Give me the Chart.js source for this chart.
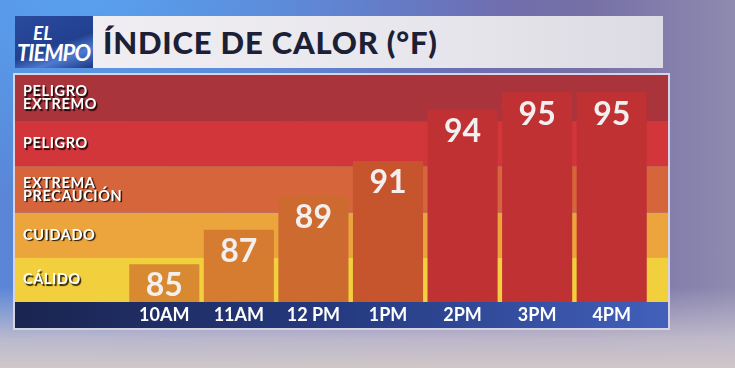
<!DOCTYPE html>
<html>
<head>
<meta charset="utf-8">
<script src="https://cdn.jsdelivr.net/npm/chart.js@4"></script>
<style>
  html, body { margin: 0; padding: 0; }
  body {
    width: 735px; height: 368px; overflow: hidden; position: relative;
    font-family: Lato, sans-serif;
    background:
      radial-gradient(ellipse 420px 200px at 90px 0px, #58a0ee 0%, rgba(88,160,238,0) 100%),
      linear-gradient(180deg, rgba(0,0,0,0) 0%, rgba(0,0,0,0) 78%, rgba(196,190,205,0.9) 92%, #cfc7c8 100%),
      linear-gradient(90deg, #5a86d8 0%, #5f78c8 25%, #6a6cb6 55%, #7670a6 80%, #8e8ab0 100%);
  }
  #logo {
    position: absolute; left: 15px; top: 16px; width: 78px; height: 52px;
    background: linear-gradient(160deg, #2a4a9e 0%, #22408f 55%, #4d7ad0 75%, #1d3680 100%);
    color: #fff; font-style: italic; font-weight: 700;
  }
  #logo .el { position: absolute; left: 18px; top: 7px; font-size: 19px; line-height: 19px; }
  #logo .ti { position: absolute; left: 2px; top: 26px; font-size: 22px; line-height: 22px; letter-spacing: -1px; }
  #titlebox {
    position: absolute; left: 93px; top: 16px; width: 570px; height: 52px;
    background: linear-gradient(90deg, #f0eef2 0%, #e7e6ec 60%, #dcdbe3 100%);
  }
  #titlebox span {
    position: absolute; left: 10px; top: 8px; font-size: 31px; line-height: 36px;
    font-weight: 900; color: #1c2036; letter-spacing: 0.8px;
  }
  #panel {
    position: absolute; left: 13px; top: 73px; width: 653px; height: 253px;
    border: 2px solid #d6d4e2;
  }
</style>
</head>
<body>
<div id="logo"><span class="el">EL</span><span class="ti">TIEMPO</span></div>
<div id="titlebox"><span>ÍNDICE DE CALOR (°F)</span></div>
<div id="panel"><canvas id="heatChart" width="653" height="253"></canvas></div>
<script>
const hours = ['10AM', '11AM', '12 PM', '1PM', '2PM', '3PM', '4PM'];
const heatIndex = [85, 87, 89, 91, 94, 95, 95];
const barColors = ['#d98a31', '#d57c30', '#cd6a30', '#c6552e', '#c03134', '#c03134', '#c03134'];

const bandEdges = [82.8, 85.4, 88.0, 90.7, 93.3, 96];
const bandNames = [['CÁLIDO'], ['CUIDADO'], ['EXTREMA', 'PRECAUCIÓN'], ['PELIGRO'], ['PELIGRO', 'EXTREMO']];
const bandColors = ['#f2cf3c', '#eca53d', '#d6653b', '#d2363b', '#a9343c'];

const fontFam = 'Lato, sans-serif';

const bandsPlugin = {
  id: 'bands',
  beforeDraw(chart) {
    const ctx = chart.ctx;
    const y = chart.scales.y;
    const x = chart.scales.x;
    ctx.save();
    for (let i = 0; i < bandColors.length; i++) {
      const top = y.getPixelForValue(bandEdges[i + 1]);
      const bottom = y.getPixelForValue(bandEdges[i]);
      ctx.fillStyle = bandColors[i];
      ctx.fillRect(0, top, chart.width, bottom - top);
    }
    // axis strip
    const g = ctx.createLinearGradient(0, 0, chart.width, 0);
    g.addColorStop(0, '#1a2450');
    g.addColorStop(0.5, '#253a80');
    g.addColorStop(1, '#4260bb');
    ctx.fillStyle = g;
    ctx.fillRect(0, x.top, chart.width, chart.height - x.top);
    ctx.restore();
  },
  afterDraw(chart) {
    const ctx = chart.ctx;
    const y = chart.scales.y;
    ctx.save();
    ctx.font = 'bold 14.5px ' + fontFam;
    ctx.letterSpacing = '0.6px';
    ctx.textBaseline = 'middle';
    ctx.fillStyle = '#ffffff';
    ctx.shadowColor = 'rgba(0,0,0,0.85)';
    ctx.shadowOffsetX = 1.5;
    ctx.shadowOffsetY = 1.5;
    ctx.shadowBlur = 1;
    for (let i = 0; i < bandNames.length; i++) {
      const mid = y.getPixelForValue((bandEdges[i] + bandEdges[i + 1]) / 2);
      const lines = bandNames[i];
      const lh = 13;
      lines.forEach((t, k) => {
        ctx.fillText(t, 8, mid + (k - (lines.length - 1) / 2) * lh);
      });
    }
    ctx.restore();
  },
  afterDatasetsDraw(chart) {
    const ctx = chart.ctx;
    const meta = chart.getDatasetMeta(0);
    ctx.save();
    ctx.font = 'bold 32px ' + fontFam;
    ctx.textAlign = 'center';
    ctx.textBaseline = 'top';
    ctx.fillStyle = '#f4efef';
    meta.data.forEach((bar, i) => {
      ctx.fillText(String(heatIndex[i]), bar.x, bar.y + 6);
    });
    ctx.restore();
  }
};

new Chart(document.getElementById('heatChart'), {
  type: 'bar',
  data: {
    labels: hours,
    datasets: [{
      data: heatIndex,
      backgroundColor: barColors,
      borderWidth: 0,
      barPercentage: 0.94,
      categoryPercentage: 1.0
    }]
  },
  options: {
    responsive: false,
    animation: false,
    layout: { padding: { left: 112, right: 19, top: 0, bottom: 0 } },
    plugins: { legend: { display: false }, tooltip: { enabled: false } },
    scales: {
      y: {
        display: false,
        min: bandEdges[0],
        max: bandEdges[bandEdges.length - 1]
      },
      x: {
        grid: { display: false, drawTicks: false },
        border: { display: false },
        ticks: {
          color: '#ffffff',
          font: { family: fontFam, weight: 'bold', size: 18 },
          padding: 2,
          maxRotation: 0
        },
        afterFit(scale) { scale.height = 26; }
      }
    }
  },
  plugins: [bandsPlugin]
});
</script>
</body>
</html>
